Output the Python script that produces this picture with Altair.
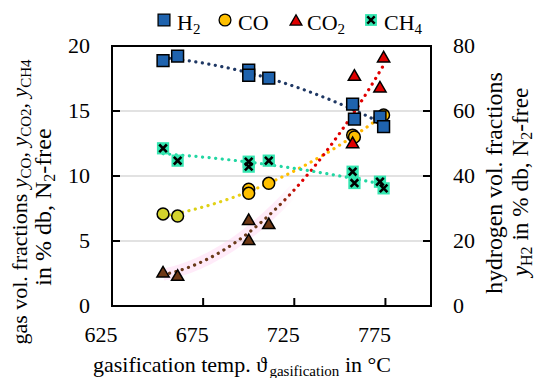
import altair as alt
import pandas as pd

FONT = "Liberation Serif"

# ---------------- data ----------------
temps = [653, 661, 700, 700, 711, 757, 758, 772, 774]
h2 = [75.5, 76.9, 72.6, 71.0, 70.1, 62.1, 57.5, 58.2, 55.2]
co = [7.08, 6.92, 8.98, 8.67, 9.44, 13.15, 13.0, 14.46, 14.69]
co2 = [2.64, 2.38, 6.67, 5.13, 6.36, 12.59, 17.77, 16.87, 19.18]
ch4 = [12.13, 11.18, 11.1, 10.72, 11.18, 10.33, 9.46, 9.56, 9.05]
co_fill = ["#D3D32C", "#D3D32C", "#FFC000", "#FFC000", "#FFC000",
           "#FFC000", "#FFC000", "#FFC000", "#FFC000"]
co2_fill = ["#6E3815", "#6E3815", "#6E3815", "#6E3815", "#6E3815",
            "#E00000", "#E00000", "#E00000", "#E00000"]

x_ticks = [625, 675, 725, 775]
x_inner_ticks = [675, 725, 775]
left_ticks = [0, 5, 10, 15, 20]
grid_vals = [5, 10, 15]
right_ticks = [0, 20, 40, 60, 80]
right_inner = [20, 40, 60]

W, H = 319, 260

df = pd.DataFrame({"T": temps, "H2": h2, "CO": co, "CO2": co2, "CH4": ch4,
                   "co_col": co_fill, "co2_col": co2_fill})

# ---------------- rich text layout helpers ----------------
WN = {' ': 250, '%': 833, ',': 250, '-': 333, '.': 250, '°': 400, 'ϑ': 600,
      '0': 500, '1': 500, '2': 500, '3': 500, '4': 500, '5': 500, '6': 500,
      '7': 500, '8': 500, '9': 500,
      'C': 667, 'H': 722, 'N': 722, 'O': 722,
      'a': 444, 'b': 500, 'c': 444, 'd': 500, 'e': 444, 'f': 333, 'g': 500,
      'h': 500, 'i': 278, 'j': 278, 'k': 500, 'l': 278, 'm': 778, 'n': 500,
      'o': 500, 'p': 500, 'q': 500, 'r': 333, 's': 389, 't': 278, 'u': 500,
      'v': 500, 'w': 722, 'x': 500, 'y': 500, 'z': 444}
WI = {'y': 444}


def tw(s, style, size):
    tot = 0
    for c in s:
        if style == 'i' and c in WI:
            tot += WI[c]
        else:
            tot += WN.get(c, 500)
    return tot / 1000 * size


def layout(pieces, anchor, baseline, rotated=False, start=False, base=22, sub=15, shift_sub=4):
    sizes = [sub if st == 's' else base for _, st in pieces]
    widths = [tw(t, st, sz) for (t, st), sz in zip(pieces, sizes)]
    L = sum(widths)
    rows, cum = [], 0
    for (t, st), w, size in zip(pieces, widths, sizes):
        shift = shift_sub if st == 's' else 0
        lead = len(t) - len(t.lstrip(' '))
        off = cum + tw(' ' * lead, 'n', size)
        txt = t.strip(' ')
        if rotated:
            rows.append(dict(t=txt, px=baseline + shift, py=anchor + L / 2 - off,
                             s=size, a=270, it=(st == 'i')))
        else:
            x0 = anchor if start else anchor - L / 2
            rows.append(dict(t=txt, px=x0 + off, py=baseline + shift,
                             s=size, a=0, it=(st == 'i')))
        cum += w
    return rows


rows = []
rows += layout([("gasification temp. ", 'n'), ("ϑ", 'n'), ("gasification", 's'),
                (" in °C", 'n')], anchor=130, baseline=326)
rows += layout([("gas vol. fractions ", 'n'), ("y", 'i'), ("CO", 's'), (", ", 'n'),
                ("y", 'i'), ("CO2", 's'), (", ", 'n'), ("y", 'i'), ("CH4", 's')],
               anchor=156, baseline=-85, rotated=True)
rows += layout([("in % db, N", 'n'), ("2", 's'), ("-free", 'n')],
               anchor=161, baseline=-61, rotated=True, base=24, sub=16)
rows += layout([("hydrogen vol. fractions", 'n')], anchor=137, baseline=390,
               rotated=True, base=23.8)
rows += layout([("y", 'i'), ("H2", 's'), (" in % db, N", 'n'), ("2", 's'), ("-free", 'n')],
               anchor=136, baseline=416, rotated=True, base=23.3, sub=16)
# legend labels
rows += layout([("H", 'n'), ("2", 's')], anchor=65, baseline=-16, start=True)
rows += layout([("CO", 'n')], anchor=126, baseline=-16, start=True)
rows += layout([("CO", 'n'), ("2", 's')], anchor=195, baseline=-16, start=True)
rows += layout([("CH", 'n'), ("4", 's')], anchor=272, baseline=-16, start=True)
tdf = pd.DataFrame(rows)


def text_layer(italic):
    return alt.Chart(tdf[tdf["it"] == italic]).mark_text(
        font=FONT, align="left", baseline="alphabetic", color="black",
        fontStyle="italic" if italic else "normal"
    ).encode(
        x=alt.X("px:Q", scale=None), y=alt.Y("py:Q", scale=None),
        text="t:N", size=alt.Size("s:Q", scale=None),
        angle=alt.Angle("a:Q", scale=None))


# ---------------- scales ----------------
xs = alt.Scale(domain=[625, 800], nice=False, zero=False)
yl = alt.Scale(domain=[0, 20], nice=False)
yr = alt.Scale(domain=[0, 80], nice=False)

base = alt.Chart(df)
X = alt.X("T:Q", scale=xs, axis=None)

xlab = alt.Chart(pd.DataFrame({"v": x_ticks})).mark_text(
    font=FONT, fontSize=22, color="black", align="center", baseline="alphabetic", dx=-11
).encode(x=alt.X("v:Q", scale=xs, axis=None), y=alt.value(H + 36), text=alt.Text("v:Q", format="d"))
ylab = alt.Chart(pd.DataFrame({"v": left_ticks})).mark_text(
    font=FONT, fontSize=22, color="black", align="right", baseline="middle"
).encode(y=alt.Y("v:Q", scale=yl, axis=None), x=alt.value(-22), text=alt.Text("v:Q", format="d"))
rlab = alt.Chart(pd.DataFrame({"v": right_ticks})).mark_text(
    font=FONT, fontSize=22, color="black", align="left", baseline="middle"
).encode(y=alt.Y("v:Q", scale=yr, axis=None), x=alt.value(W + 22), text=alt.Text("v:Q", format="d"))

grid = alt.Chart(pd.DataFrame({"v": grid_vals})).mark_rule(
    color="#D9D9D9", strokeWidth=1.5).encode(y=alt.Y("v:Q", scale=yl, axis=None))
lticks = alt.Chart(pd.DataFrame({"v": grid_vals})).mark_rule(
    color="black", strokeWidth=2).encode(
    y=alt.Y("v:Q", scale=yl, axis=None), x=alt.value(0), x2=alt.value(8))
bticks = alt.Chart(pd.DataFrame({"v": x_inner_ticks})).mark_rule(
    color="black", strokeWidth=2).encode(
    x=alt.X("v:Q", scale=xs, axis=None), y=alt.value(H - 8), y2=alt.value(H))
rticks = alt.Chart(pd.DataFrame({"v": right_inner})).mark_rule(
    color="black", strokeWidth=2).encode(
    y=alt.Y("v:Q", scale=yr, axis=None), x=alt.value(W - 8), x2=alt.value(W))


def grad(stops):
    return alt.Gradient(gradient="linear",
                        stops=[alt.GradientStop(color=c, offset=o) for o, c in stops],
                        x1=0, x2=1, y1=0, y2=0)


def trend(field, color, scale, width=3.2):
    return base.transform_regression("T", field, method="poly", order=2).mark_line(
        color=color, strokeWidth=width, strokeDash=[0.1, 6.5], strokeCap="round"
    ).encode(x=X, y=alt.Y(f"{field}:Q", scale=scale, axis=None))


glow = base.transform_regression("T", "CO2", method="poly", order=2).mark_line(
    color=grad([(0, "rgba(255,205,240,0.4)"), (0.5, "rgba(255,205,240,0.4)"),
                (0.6, "rgba(255,205,240,0)"), (1, "rgba(255,205,240,0)")]),
    strokeWidth=12).encode(x=X, y=alt.Y("CO2:Q", scale=yl, axis=None))

co_tr = trend("CO", grad([(0, "#CFCF10"), (0.3, "#E6D21A"), (0.5, "#FFC000"), (1, "#FFB400")]), yl)
co2_tr = trend("CO2", grad([(0, "#6B3A1A"), (0.52, "#6B3A1A"), (0.62, "#E00000"), (1, "#E00000")]), yl)
ch4_tr = trend("CH4", "#22D6A2", yl)
h2_tr = trend("H2", "#1F3864", yr)

co_pts = base.mark_point(shape="circle", filled=True, size=140, stroke="black",
                         strokeWidth=1.5, opacity=1).encode(
    x=X, y=alt.Y("CO:Q", scale=yl, axis=None), fill=alt.Fill("co_col:N", scale=None))
co2_pts = base.mark_point(shape="triangle-up", filled=True, size=150, stroke="black",
                          strokeWidth=1.5, opacity=1).encode(
    x=X, y=alt.Y("CO2:Q", scale=yl, axis=None), fill=alt.Fill("co2_col:N", scale=None))
XPATH = "M-0.62,-0.62L0.62,0.62M-0.62,0.62L0.62,-0.62"
ch4_sq = base.mark_point(shape="square", filled=True, size=150, fill="#33E6B0",
                         strokeWidth=0, opacity=1).encode(
    x=X, y=alt.Y("CH4:Q", scale=yl, axis=None))
ch4_x = base.mark_point(shape=XPATH, filled=False, size=150, stroke="black",
                        strokeWidth=2.6, opacity=1).encode(
    x=X, y=alt.Y("CH4:Q", scale=yl, axis=None))
h2_pts = base.mark_point(shape="square", filled=True, size=140, fill="#1F63AE",
                         stroke="black", strokeWidth=1.5, opacity=1).encode(
    x=X, y=alt.Y("H2:Q", scale=yr, axis=None))

LY = -26
one = alt.Chart(pd.DataFrame({"k": [0]}))
leg = [
    one.mark_point(shape="square", filled=True, size=140, fill="#1F63AE", stroke="black",
                   strokeWidth=1.3, opacity=1).encode(x=alt.value(52), y=alt.value(LY)),
    one.mark_point(shape="circle", filled=True, size=140, fill="#FFC000", stroke="black",
                   strokeWidth=1.3, opacity=1).encode(x=alt.value(113), y=alt.value(LY)),
    one.mark_point(shape="triangle-up", filled=True, size=140, fill="#E00000", stroke="black",
                   strokeWidth=1.3, opacity=1).encode(x=alt.value(184), y=alt.value(LY)),
    one.mark_point(shape="square", filled=True, size=140, fill="#33E6B0", strokeWidth=0,
                   opacity=1).encode(x=alt.value(259), y=alt.value(LY)),
    one.mark_point(shape=XPATH, filled=False, size=140, stroke="black", strokeWidth=2.4,
                   opacity=1).encode(x=alt.value(259), y=alt.value(LY)),
]

left = alt.layer(grid, lticks, bticks, xlab, ylab, glow, co_tr, co2_tr, ch4_tr,
                 co_pts, co2_pts, ch4_sq, ch4_x, *leg,
                 text_layer(False), text_layer(True))
right = alt.layer(rticks, rlab, h2_tr, h2_pts)

chart = alt.layer(left, right).resolve_scale(y="independent").properties(
    width=W, height=H,
    padding={"left": 104, "top": 38, "right": 111, "bottom": 72},
    autosize=alt.AutoSizeParams(type="none"),
).configure_view(stroke="black", strokeWidth=2)

chart.save("out.html", embed_options={"renderer": "svg", "actions": False})
